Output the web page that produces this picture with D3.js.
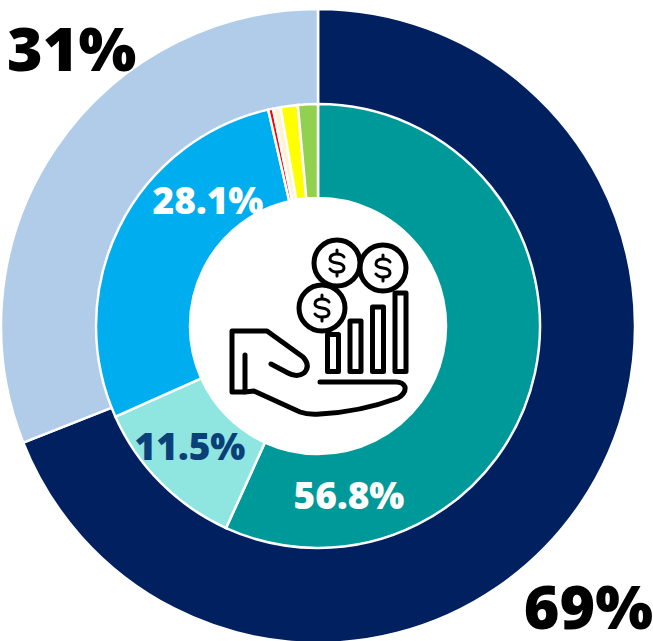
<!DOCTYPE html>
<html><head><meta charset="utf-8">
<script src="https://cdnjs.cloudflare.com/ajax/libs/d3/7.8.5/d3.min.js"></script>
<style>html,body{margin:0;padding:0;background:#fff;overflow:hidden}svg{display:block}</style>
</head><body><svg id="c" width="653" height="641"></svg>
<script>
const outerCategories = ["A","B"];
const outerValues = [69,31];
const outerColors = ["#002060","#B0CCE9"];
const outerLabels = ["69%","31%"];
const innerCategories = ["Teal","Aqua","Blue","Red","Pale","Yellow","Green"];
const innerValues = [56.8,11.5,28.1,0.35,0.55,1.25,1.45];
const innerColors = ["#009999","#8FE5E0","#00AEEF","#FF0000","#FFF2D0","#FFFF00","#92D050"];
const innerLabels = ["56.8%","11.5%","28.1%","","","",""];
const innerLabelColors = ["#fff","#0B3F78","#fff","","","",""];
const innerLabelSpots = [[349,496],[190,447],[208,201]];

const cx=318, cy=326;
const svg=d3.select("#c");
const g=svg.append("g").attr("transform",`translate(${cx},${cy})`);
const pie=d3.pie().sort(null).value(d=>d);
const outerArc=d3.arc().innerRadius(221).outerRadius(317);
const innerArc=d3.arc().innerRadius(128).outerRadius(222);

g.selectAll("path.o").data(pie(outerValues)).join("path").attr("class","o")
 .attr("d",outerArc).attr("fill",(d,i)=>outerColors[i]).attr("stroke","#fff").attr("stroke-width",2.5);
g.selectAll("path.i").data(pie(innerValues)).join("path").attr("class","i")
 .attr("d",innerArc).attr("fill",(d,i)=>innerColors[i]).attr("stroke","#fff").attr("stroke-width",2.5);

const font="'Open Sans', sans-serif";
innerLabels.forEach((t,i)=>{ if(!t) return;
  const pos=innerLabelSpots[i];
  svg.append("text").attr("x",pos[0]).attr("y",pos[1]).attr("dy","0.35em")
   .attr("text-anchor","middle").attr("font-family",font).attr("font-weight",800)
   .attr("font-size",37).attr("fill",innerLabelColors[i]).text(t);
});
svg.append("text").attr("x",7).attr("y",71).attr("font-family",font).attr("font-weight",800)
 .attr("font-size",61).attr("fill","#000").text(outerLabels[1]);
svg.append("text").attr("x",653).attr("y",629).attr("text-anchor","end").attr("font-family",font).attr("font-weight",800)
 .attr("font-size",61).attr("fill","#000").text(outerLabels[0]);

// icon, in the coordinates of the page
const icon=svg.append("g").attr("fill","none").attr("stroke","#000").attr("stroke-width",5)
 .attr("stroke-linejoin","round").attr("stroke-linecap","round");
const coins=[[337,263],[383,268],[322,308]];
coins.forEach(c=>icon.append("circle").attr("cx",c[0]).attr("cy",c[1]).attr("r",23));
[[327.5,334.5,11,37],[350,321,11,50.5],[372.5,307,11,64.5],[395,293,11,78.5]].forEach(r=>
  icon.append("rect").attr("x",r[0]).attr("y",r[1]).attr("width",r[2]).attr("height",r[3]));
icon.append("path").attr("d","M244,392 H232 V331 H267 L303,357 Q311,366 304,373 Q297,378 288,373 L271,364");
icon.append("path").attr("d","M245,355 V392 L254,391 L300,412 Q308,415 320,414 Q360,412 398,398 Q406,393 405,387 Q403,382 396,382 H320");
coins.forEach(c=>{
  icon.append("path").attr("transform",`translate(${c[0]},${c[1]})`).attr("stroke-width",3)
   .attr("d","M7,-6 Q5,-9 0,-9 Q-7,-9 -7,-4 Q-7,-1 0,0 Q7,1 7,5 Q7,9 0,9 Q-5,9 -7,6 M0,-13 V-9 M0,9 V13");
});
</script></body></html>
